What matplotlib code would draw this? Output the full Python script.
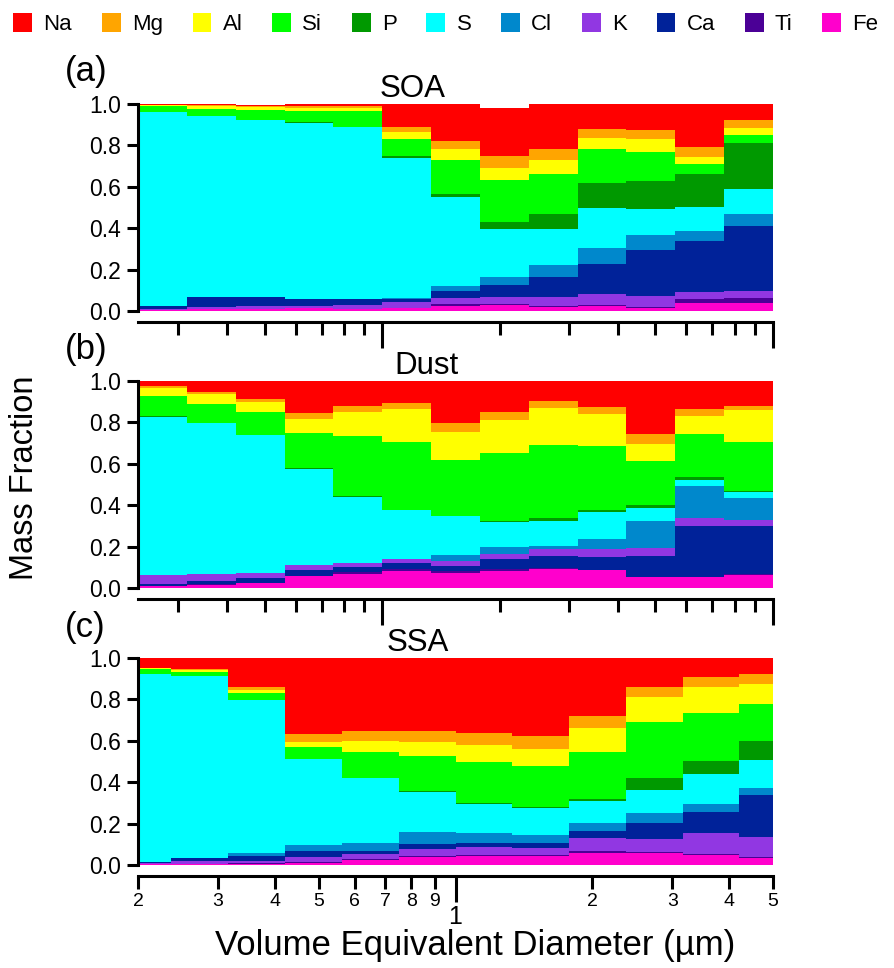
import matplotlib
matplotlib.use("Agg")
import matplotlib.pyplot as plt
from matplotlib.patches import Patch
from matplotlib.ticker import FixedLocator, FixedFormatter, NullFormatter
import numpy as np

plt.rcParams['font.family'] = ['Liberation Sans', 'DejaVu Sans']

# elements in legend order
elements = ["Na", "Mg", "Al", "Si", "P", "S", "Cl", "K", "Ca", "Ti", "Fe"]
colors = ["#FF0000", "#FFA500", "#FFFF00", "#00FF00", "#009900", "#00FFFF",
          "#0088CC", "#9137E2", "#002299", "#4B0096", "#FF00CC"]

# bin edges (um)
edges_ab = [0.237, 0.316, 0.422, 0.562, 0.750, 1.0, 1.334, 1.778, 2.371,
            3.162, 4.217, 5.623, 7.499, 10.0]
edges_c = [0.2, 0.237, 0.316, 0.422, 0.562, 0.750, 1.0, 1.334, 1.778, 2.371,
           3.162, 4.217, 5.0]

# mass fractions, rows in legend order (Na ... Fe)
soa = [
    [0.008, 0.008, 0.005, 0.013, 0.008, 0.111, 0.179, 0.233, 0.217, 0.126, 0.130, 0.208, 0.077],  # Na
    [0.002, 0.005, 0.005, 0.005, 0.008, 0.024, 0.039, 0.058, 0.053, 0.043, 0.039, 0.048, 0.039],  # Mg
    [0.001, 0.013, 0.016, 0.016, 0.015, 0.031, 0.053, 0.058, 0.068, 0.053, 0.063, 0.034, 0.034],  # Al
    [0.032, 0.032, 0.048, 0.052, 0.079, 0.085, 0.164, 0.203, 0.193, 0.164, 0.140, 0.048, 0.039],  # Si
    [0.000, 0.004, 0.000, 0.005, 0.000, 0.008, 0.013, 0.034, 0.072, 0.121, 0.135, 0.159, 0.222],  # P
    [0.937, 0.872, 0.853, 0.852, 0.831, 0.676, 0.432, 0.232, 0.174, 0.193, 0.130, 0.116, 0.121],  # S
    [0.000, 0.000, 0.000, 0.000, 0.000, 0.006, 0.024, 0.039, 0.058, 0.077, 0.072, 0.048, 0.058],  # Cl
    [0.003, 0.006, 0.016, 0.011, 0.019, 0.029, 0.032, 0.035, 0.043, 0.052, 0.052, 0.034, 0.034],  # K
    [0.015, 0.050, 0.045, 0.034, 0.029, 0.016, 0.032, 0.058, 0.097, 0.145, 0.222, 0.246, 0.314],  # Ca
    [0.000, 0.000, 0.000, 0.000, 0.000, 0.000, 0.008, 0.003, 0.005, 0.003, 0.003, 0.019, 0.024],  # Ti
    [0.005, 0.012, 0.008, 0.013, 0.010, 0.013, 0.024, 0.029, 0.019, 0.026, 0.016, 0.039, 0.039],  # Fe
]

dust = [
    [0.023, 0.053, 0.087, 0.155, 0.121, 0.106, 0.203, 0.150, 0.102, 0.126, 0.256, 0.135, 0.121],  # Na
    [0.013, 0.010, 0.015, 0.029, 0.029, 0.029, 0.044, 0.039, 0.034, 0.034, 0.048, 0.034, 0.019],  # Mg
    [0.037, 0.048, 0.048, 0.068, 0.116, 0.160, 0.135, 0.160, 0.179, 0.155, 0.082, 0.087, 0.155],  # Al
    [0.097, 0.090, 0.111, 0.168, 0.289, 0.327, 0.269, 0.327, 0.353, 0.310, 0.213, 0.208, 0.235],  # Si
    [0.003, 0.000, 0.000, 0.003, 0.003, 0.000, 0.003, 0.005, 0.010, 0.010, 0.013, 0.013, 0.005],  # P
    [0.766, 0.729, 0.668, 0.468, 0.319, 0.235, 0.187, 0.123, 0.121, 0.131, 0.065, 0.031, 0.031],  # S
    [0.000, 0.000, 0.000, 0.000, 0.000, 0.000, 0.029, 0.032, 0.018, 0.048, 0.129, 0.153, 0.106],  # Cl
    [0.042, 0.035, 0.023, 0.024, 0.023, 0.021, 0.024, 0.026, 0.031, 0.039, 0.040, 0.040, 0.029],  # K
    [0.010, 0.016, 0.024, 0.027, 0.023, 0.027, 0.023, 0.048, 0.061, 0.063, 0.100, 0.245, 0.232],  # Ca
    [0.000, 0.005, 0.000, 0.000, 0.011, 0.013, 0.010, 0.010, 0.003, 0.000, 0.000, 0.000, 0.003],  # Ti
    [0.010, 0.013, 0.024, 0.058, 0.066, 0.081, 0.073, 0.081, 0.092, 0.085, 0.053, 0.053, 0.063],  # Fe
]

ssa = [
    [0.048, 0.052, 0.144, 0.366, 0.356, 0.352, 0.361, 0.376, 0.279, 0.139, 0.095, 0.076],  # Na
    [0.000, 0.005, 0.015, 0.040, 0.044, 0.053, 0.058, 0.063, 0.058, 0.048, 0.044, 0.048],  # Mg
    [0.003, 0.010, 0.010, 0.023, 0.053, 0.068, 0.082, 0.082, 0.116, 0.121, 0.126, 0.097],  # Al
    [0.024, 0.019, 0.034, 0.056, 0.126, 0.168, 0.198, 0.198, 0.227, 0.271, 0.232, 0.179],  # Si
    [0.000, 0.000, 0.000, 0.000, 0.000, 0.005, 0.005, 0.005, 0.010, 0.058, 0.063, 0.092],  # P
    [0.908, 0.879, 0.742, 0.418, 0.315, 0.195, 0.140, 0.131, 0.106, 0.111, 0.145, 0.135],  # S
    [0.000, 0.003, 0.013, 0.029, 0.039, 0.058, 0.048, 0.039, 0.039, 0.048, 0.039, 0.034],  # Cl
    [0.007, 0.015, 0.011, 0.024, 0.024, 0.035, 0.037, 0.034, 0.063, 0.063, 0.103, 0.095],  # K
    [0.006, 0.013, 0.024, 0.029, 0.015, 0.024, 0.019, 0.024, 0.034, 0.077, 0.102, 0.203],  # Ca
    [0.000, 0.000, 0.005, 0.003, 0.005, 0.005, 0.006, 0.005, 0.008, 0.003, 0.005, 0.005],  # Ti
    [0.003, 0.005, 0.004, 0.011, 0.024, 0.037, 0.044, 0.044, 0.060, 0.060, 0.047, 0.035],  # Fe
]

# stacking order, bottom to top
order_soa = ["Fe", "Ti", "K", "Ca", "Cl", "S", "P", "Si", "Al", "Mg", "Na"]
order_dust = ["Fe", "Ti", "Ca", "K", "Cl", "S", "P", "Si", "Al", "Mg", "Na"]
order_ssa = order_soa

W, H = 894, 968
fig = plt.figure(figsize=(W / 100, H / 100), dpi=100)


def panel(bottom_px, data, edges, order, xlim, title, title_x, label, label_y):
    ax = fig.add_axes([138 / W, (H - bottom_px) / H, 635 / W, 207 / H])
    base = np.zeros(len(edges) - 1)
    for el in order:
        i = elements.index(el)
        vals = np.array(data[i])
        ax.stairs(base + vals, edges, baseline=base, fill=True,
                  color=colors[i], linewidth=0)
        base = base + vals
    ax.set_xscale("log")
    ax.set_xlim(*xlim)
    ax.set_ylim(0, 1.0)
    ax.set_yticks([0, 0.2, 0.4, 0.6, 0.8, 1.0])
    ax.set_yticklabels(["0.0", "0.2", "0.4", "0.6", "0.8", "1.0"], fontsize=16.5)
    for s in ["top", "right"]:
        ax.spines[s].set_visible(False)
    ax.spines["left"].set_linewidth(2.2)
    ax.spines["bottom"].set_linewidth(2.2)
    ax.spines["bottom"].set_position(("outward", 8))
    ax.tick_params(axis="y", length=8, width=2.2, pad=4)
    ax.tick_params(axis="x", which="major", length=19, width=2.2)
    ax.tick_params(axis="x", which="minor", length=9, width=2.2)
    ax.text(title_x, 1.0, title, transform=ax.transAxes, ha="center",
            va="bottom", fontsize=22.5)
    fig.text(65 / W, 1 - label_y / H, label, fontsize=25, va="center")
    return ax


ax1 = panel(311, soa, edges_ab, order_soa, (edges_ab[0], edges_ab[-1]),
            "SOA", 0.432, "(a)", 72)
ax2 = panel(588, dust, edges_ab, order_dust, (edges_ab[0], edges_ab[-1]),
            "Dust", 0.455, "(b)", 350)
ax3 = panel(865, ssa, edges_c, order_ssa, (0.2, 5.0),
            "SSA", 0.44, "(c)", 627)

for ax in (ax1, ax2):
    ax.xaxis.set_major_locator(FixedLocator([1, 10]))
    ax.xaxis.set_minor_locator(FixedLocator([0.3, 0.4, 0.5, 0.6, 0.7, 0.8, 0.9,
                                             2, 3, 4, 5, 6, 7, 8, 9]))
    ax.xaxis.set_major_formatter(NullFormatter())
    ax.xaxis.set_minor_formatter(NullFormatter())

minor_c = [0.2, 0.3, 0.4, 0.5, 0.6, 0.7, 0.8, 0.9, 2, 3, 4, 5]
ax3.xaxis.set_major_locator(FixedLocator([1]))
ax3.xaxis.set_major_formatter(FixedFormatter(["1"]))
ax3.xaxis.set_minor_locator(FixedLocator(minor_c))
ax3.xaxis.set_minor_formatter(FixedFormatter(["2", "3", "4", "5", "6", "7", "8", "9",
                                              "2", "3", "4", "5"]))
ax3.tick_params(axis="x", which="minor", labelsize=14, pad=3)
ax3.tick_params(axis="x", which="major", labelsize=18, pad=2)

fig.text(475 / W, 1 - 946 / H, "Volume Equivalent Diameter (\u00b5m)",
         ha="center", va="center", fontsize=25)
fig.text(25 / W, 1 - 478 / H, "Mass Fraction", rotation=90,
         ha="center", va="center", fontsize=23.5)

handles = [Patch(facecolor=c, edgecolor="none") for c in colors]
fig.legend(handles, elements, loc="upper left", bbox_to_anchor=(0.0, 1.0),
           ncol=11, frameon=False, fontsize=16, handlelength=0.85,
           handleheight=0.9, handletextpad=0.5, columnspacing=1.34,
           borderaxespad=0.3, borderpad=0.3)

fig.savefig("out.png", dpi=100)
